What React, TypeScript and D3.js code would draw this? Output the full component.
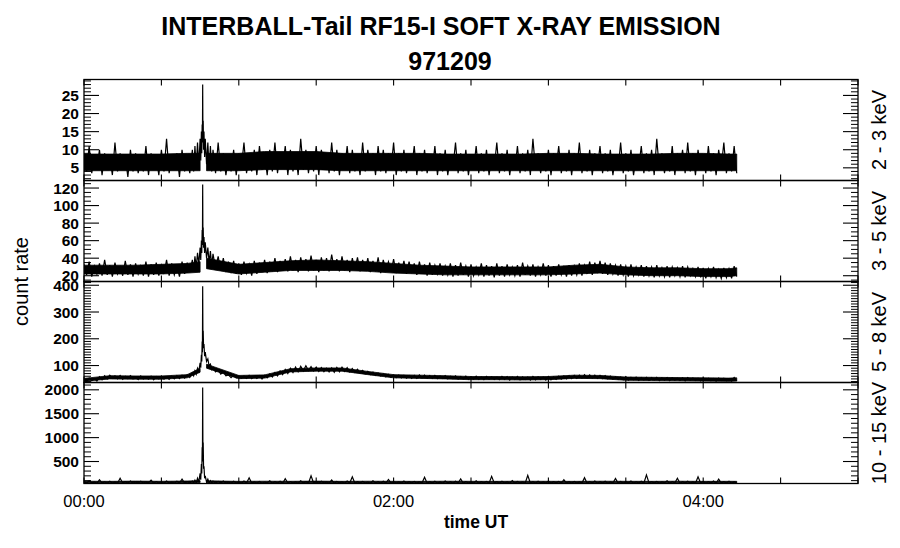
import React from 'react';
import * as d3 from 'd3';

const TITLE = 'INTERBALL-Tail RF15-I SOFT X-RAY EMISSION';
const SUBTITLE = '971209';
const X_LABEL = 'time UT';
const Y_LABEL = 'count rate';
const X_DOMAIN_MIN = [0, 300];
const X_MAJOR_STEP = 30;
const X_TICK_MINUTES = [0, 120, 240];
const X_TICK_LABELS = ['00:00', '02:00', '04:00'];

// Each channel: 2-minute bins from 00:00, written as [high, low, high, low, ...]
// (upper and lower excursion of the noisy trace in the bin).
const BIN_MINUTES = 2;
// Dense core of the noise band (interrupted under the flare peak).
const CORE_MINUTES = [0, 10, 20, 30, 40, 45, 47.5, 60, 70, 80, 90, 100, 110, 120, 130, 140, 150, 160, 170, 180, 190, 200, 210, 220, 230, 240, 250, 253];
const CORE_GAP = [45, 47.5];
// Flare around 00:46 at finer time resolution (replaces the bins from 42 to 54 min).
const FLARE_WINDOW = [42, 56];
const FLARE_MINUTES = [42, 42.5, 43, 43.5, 44, 44.5, 45, 45.25, 45.5, 45.65, 45.8, 45.9, 46, 46.1, 46.2, 46.35, 46.5, 46.75, 47, 47.5, 48, 48.5, 49, 49.5, 50, 51, 52, 53, 54, 55];

const CH1_LABEL = '2 - 3 keV';
const CH1_RANGE = [1.5, 29.4];
const CH1_MAJOR = [5, 10, 15, 20, 25];
const CH1_MINOR = 1;
const CH1 = [
  9, 4, 11, 3.5, 8, 5, 10, 3, 9, 4.5,
  8, 3, 12, 4, 9, 5, 8, 2.5, 10, 4,
  9, 3.5, 7.5, 4, 11, 3, 9, 5, 8, 3,
  10, 4, 13, 3.5, 8, 4.5, 9, 2.5, 10, 4,
  8, 3.5, 11, 5, 9, 6, 28, 7, 12, 4,
  10, 3, 9, 4.5, 11, 3.5, 8, 4, 10, 3,
  9, 5, 12, 3.5, 8, 4, 10, 3, 11, 4.5,
  9, 3, 10, 4, 12, 3.5, 9, 5, 11, 3,
  10, 4, 9, 3, 13, 4.5, 10, 3.5, 9, 4,
  11, 3, 10, 5, 9, 3.5, 12, 4, 10, 3,
  9, 4.5, 11, 3.5, 10, 4, 8, 3, 12, 4,
  10, 5, 9, 3, 11, 4, 10, 3.5, 9, 4.5,
  12, 3, 9, 4, 10, 3.5, 8, 5, 11, 3,
  9, 4, 10, 3.5, 8, 4.5, 11, 3, 9, 4,
  10, 3, 8, 5, 12, 3.5, 9, 4, 10, 3,
  8, 4.5, 11, 3.5, 9, 4, 10, 3, 8, 5,
  12, 3.5, 9, 4, 10, 3, 8, 4.5, 11, 3.5,
  9, 4, 10, 3, 13, 4.5, 9, 3.5, 8, 4,
  10, 3, 9, 5, 11, 3.5, 8, 4, 10, 3,
  9, 4.5, 12, 3.5, 8, 4, 10, 3, 9, 5,
  11, 3.5, 9, 4, 10, 3, 8, 4.5, 12, 3.5,
  9, 4, 10, 3, 8, 5, 11, 3.5, 9, 4,
  10, 3, 13, 4.5, 9, 3.5, 8, 4, 11, 3,
  9, 5, 10, 3.5, 12, 4, 9, 3, 10, 4.5,
  8, 3.5, 11, 4, 9, 3, 10, 5, 12, 3.5,
  9, 4, 11, 3.5,
];
const CH1_CORE_HI = [8.8, 8.8, 8.8, 8.8, 9, 9, 9, 9, 9.5, 9.5, 9.5, 9, 9, 9, 9, 8.8, 8.8, 8.8, 8.8, 9, 9, 8.8, 8.8, 8.8, 9, 9, 8.8, 8.8];
const CH1_CORE_LO = [4.2, 4.2, 4.2, 4.2, 4.2, 4.2, 4.2, 4.2, 4.5, 4.5, 4.5, 4.2, 4.2, 4.2, 4.2, 4.2, 4.2, 4.2, 4.2, 4.2, 4.2, 4.2, 4.2, 4.2, 4.2, 4.2, 4.2, 4.2];
const CH1_FLARE = [10, 4, 11, 5, 12, 5.5, 13, 7, 15, 9, 17, 12, 28, 14, 18, 10, 15, 8, 13, 6, 12, 4.5, 11, 4, 10, 3.5, 12, 4, 9, 3];

const CH2_LABEL = '3 - 5 keV';
const CH2_RANGE = [13.4, 128.6];
const CH2_MAJOR = [20, 40, 60, 80, 100, 120];
const CH2_MINOR = 5;
const CH2 = [
  33, 21, 36, 19, 31, 22, 34, 20, 38, 21,
  32, 19, 35, 22, 30, 20, 37, 21, 33, 19,
  34, 22, 31, 20, 36, 19, 33, 21, 35, 20,
  32, 22, 38, 20, 34, 21, 31, 19, 36, 22,
  35, 24, 40, 27, 48, 33, 124, 45, 60, 36,
  42, 28, 40, 26, 38, 24, 36, 23, 37, 22,
  34, 21, 36, 23, 33, 20, 37, 22, 35, 24,
  38, 23, 36, 25, 40, 24, 37, 26, 39, 25,
  42, 26, 38, 24, 41, 27, 39, 25, 43, 26,
  38, 24, 41, 26, 40, 25, 44, 27, 39, 25,
  42, 26, 38, 24, 40, 27, 41, 25, 38, 26,
  40, 24, 37, 25, 41, 23, 38, 26, 36, 24,
  39, 23, 35, 24, 37, 22, 36, 23, 34, 21,
  36, 22, 33, 20, 35, 21, 32, 22, 34, 20,
  31, 21, 34, 19, 32, 20, 35, 21, 31, 19,
  33, 20, 30, 21, 34, 19, 32, 20, 31, 18,
  34, 20, 31, 19, 33, 21, 30, 20, 32, 19,
  35, 21, 31, 20, 33, 19, 30, 21, 34, 20,
  32, 19, 31, 20, 33, 21, 30, 19, 32, 20,
  31, 21, 34, 20, 32, 22, 36, 21, 35, 23,
  37, 22, 35, 21, 34, 22, 32, 20, 33, 21,
  31, 19, 33, 20, 30, 21, 32, 19, 31, 20,
  30, 18, 32, 20, 29, 19, 31, 18, 30, 20,
  29, 19, 31, 18, 30, 20, 28, 19, 30, 18,
  29, 17, 28, 19, 30, 18, 27, 17, 29, 18,
  28, 17, 31, 19,
];
const CH2_CORE_HI = [32, 32, 32, 33, 34, 36, 40, 33, 35, 37, 38, 37, 36, 34, 32, 31, 30, 30, 30, 30, 32, 33, 30, 29, 29, 28, 28, 29];
const CH2_CORE_LO = [22, 22, 22, 22, 23, 24, 28, 22, 24, 26, 26, 26, 25, 23, 22, 21, 21, 21, 21, 21, 22, 23, 21, 20, 20, 19, 19, 20];
const CH2_FLARE = [38, 26, 42, 30, 46, 33, 52, 38, 60, 46, 72, 55, 124, 62, 75, 52, 64, 46, 58, 40, 52, 35, 48, 31, 45, 28, 42, 26, 40, 24];

const CH3_LABEL = '5 - 8 keV';
const CH3_RANGE = [36.6, 414];
const CH3_MAJOR = [100, 200, 300, 400];
const CH3_MINOR = 10;
const CH3 = [
  50, 41, 53, 43, 51, 42, 58, 47, 62, 50,
  64, 52, 61, 50, 63, 49, 60, 51, 62, 50,
  59, 48, 61, 50, 58, 49, 60, 47, 59, 50,
  61, 49, 58, 48, 60, 50, 62, 51, 64, 53,
  66, 55, 70, 60, 90, 80, 396, 120, 100, 85,
  74, 62, 70, 60, 68, 57, 65, 55, 64, 54,
  62, 53, 61, 52, 63, 51, 60, 52, 62, 50,
  64, 54, 68, 57, 74, 61, 80, 66, 85, 70,
  90, 74, 94, 77, 97, 80, 99, 81, 96, 80,
  94, 78, 92, 77, 90, 76, 91, 75, 93, 77,
  94, 78, 92, 76, 89, 74, 86, 72, 82, 69,
  78, 66, 75, 63, 72, 61, 69, 58, 67, 56,
  65, 55, 64, 54, 63, 53, 62, 52, 63, 52,
  65, 54, 64, 53, 62, 52, 63, 51, 61, 52,
  62, 50, 60, 51, 61, 49, 59, 50, 60, 48,
  58, 49, 60, 48, 57, 47, 59, 49, 58, 48,
  57, 47, 59, 48, 58, 46, 57, 48, 59, 47,
  58, 48, 57, 46, 59, 47, 58, 48, 57, 46,
  59, 47, 58, 48, 60, 49, 61, 50, 62, 51,
  63, 52, 64, 53, 66, 54, 65, 53, 64, 52,
  63, 51, 62, 50, 60, 49, 58, 48, 57, 47,
  58, 46, 56, 47, 57, 45, 55, 46, 56, 45,
  55, 46, 56, 44, 54, 45, 55, 44, 54, 45,
  53, 44, 54, 43, 55, 45, 53, 44, 52, 43,
  53, 44, 52, 43, 51, 42, 53, 44, 52, 43,
  51, 42, 55, 43,
];
const CH3_CORE_HI = [52, 62, 61, 61, 66, 90, 105, 63, 65, 88, 91, 91, 78, 66, 64, 62, 59, 59, 58, 59, 64, 63, 57, 56, 55, 54, 53, 54];
const CH3_CORE_LO = [41, 50, 49, 49, 54, 75, 90, 51, 53, 76, 79, 79, 66, 54, 52, 50, 47, 47, 46, 47, 52, 51, 45, 44, 43, 42, 41, 42];
const CH3_FLARE = [72, 62, 80, 68, 90, 78, 110, 92, 140, 115, 190, 150, 396, 200, 230, 165, 180, 135, 150, 115, 125, 98, 105, 85, 92, 76, 84, 68, 76, 62];

const CH4_LABEL = '10 - 15 keV';
const CH4_RANGE = [40, 2153];
const CH4_MAJOR = [500, 1000, 1500, 2000];
const CH4_MINOR = 100;
const CH4 = [
  80, 48, 95, 52, 70, 45, 120, 50, 75, 47,
  85, 50, 68, 46, 150, 52, 78, 48, 90, 45,
  72, 50, 88, 47, 70, 52, 110, 46, 80, 49,
  75, 45, 92, 51, 68, 47, 85, 50, 130, 48,
  78, 52, 95, 55, 150, 120, 2050, 250, 80, 55,
  82, 50, 76, 47, 105, 52, 70, 46, 88, 49,
  74, 45, 90, 51, 160, 48, 72, 50, 84, 46,
  70, 52, 98, 47, 76, 50, 88, 45, 140, 51,
  80, 48, 72, 46, 95, 52, 78, 47, 200, 50,
  75, 46, 86, 51, 70, 48, 115, 45, 82, 52,
  74, 47, 92, 50, 180, 46, 78, 51, 85, 48,
  70, 45, 96, 52, 76, 47, 88, 50, 125, 46,
  80, 51, 73, 48, 90, 45, 78, 52, 84, 47,
  72, 50, 170, 46, 79, 51, 86, 48, 74, 45,
  92, 52, 77, 47, 88, 50, 135, 46, 80, 51,
  73, 48, 95, 45, 76, 52, 84, 47, 190, 50,
  78, 46, 86, 51, 72, 48, 100, 45, 81, 52,
  75, 47, 210, 50, 79, 46, 88, 51, 73, 48,
  92, 45, 77, 52, 85, 47, 120, 50, 78, 46,
  84, 51, 72, 48, 160, 45, 80, 52, 90, 47,
  76, 50, 88, 46, 74, 51, 145, 48, 82, 45,
  79, 52, 93, 47, 75, 50, 86, 46, 220, 51,
  77, 48, 84, 45, 72, 52, 96, 47, 80, 50,
  150, 46, 79, 51, 88, 48, 74, 45, 180, 52,
  82, 47, 76, 50, 90, 46, 130, 51, 78, 48,
  85, 45, 72, 50,
];
const CH4_CORE_HI = [88, 85, 90, 86, 92, 100, 95, 85, 88, 86, 90, 85, 88, 86, 85, 88, 86, 85, 88, 86, 85, 88, 86, 85, 88, 85, 86, 85];
const CH4_CORE_LO = [55, 55, 55, 54, 56, 60, 56, 55, 54, 55, 55, 54, 55, 55, 54, 55, 55, 54, 55, 55, 54, 55, 55, 54, 55, 54, 55, 54];
const CH4_FLARE = [90, 50, 110, 55, 150, 70, 250, 120, 450, 250, 800, 500, 2050, 700, 900, 350, 400, 150, 200, 70, 130, 55, 100, 50, 90, 48, 85, 50, 92, 47];

const PANELS = [
  { label: CH1_LABEL, range: CH1_RANGE, major: CH1_MAJOR, minor: CH1_MINOR, values: CH1, cHi: CH1_CORE_HI, cLo: CH1_CORE_LO, flare: CH1_FLARE },
  { label: CH2_LABEL, range: CH2_RANGE, major: CH2_MAJOR, minor: CH2_MINOR, values: CH2, cHi: CH2_CORE_HI, cLo: CH2_CORE_LO, flare: CH2_FLARE },
  { label: CH3_LABEL, range: CH3_RANGE, major: CH3_MAJOR, minor: CH3_MINOR, values: CH3, cHi: CH3_CORE_HI, cLo: CH3_CORE_LO, flare: CH3_FLARE },
  { label: CH4_LABEL, range: CH4_RANGE, major: CH4_MAJOR, minor: CH4_MINOR, values: CH4, cHi: CH4_CORE_HI, cLo: CH4_CORE_LO, flare: CH4_FLARE },
];

const W = 900;
const H = 548;
const LEFT = 84;
const RIGHT = 858;
const TOP = 79.5;
const PANEL_H = 101;
const FONT = '"Liberation Sans", Arial, Helvetica, sans-serif';

type Pt = [number, number];
type Band = { t: number; hi: number; lo: number };

function tracePoints(values: number[], flare: number[]): Pt[] {
  // zig-zag through high / low excursions, with the finer flare samples spliced in
  const pts: Pt[] = [];
  for (let k = 0; k * 2 + 1 < values.length; k++) {
    const t = k * BIN_MINUTES;
    if (t >= FLARE_WINDOW[0] && t < FLARE_WINDOW[1]) continue;
    pts.push([t, values[2 * k]]);
    pts.push([t + BIN_MINUTES / 2, values[2 * k + 1]]);
  }
  FLARE_MINUTES.forEach((m, k) => pts.push([m, flare[k]]));
  pts.sort((a, b) => a[0] - b[0]);
  return pts;
}

export default function App() {
  const x = d3.scaleLinear().domain(X_DOMAIN_MIN).range([LEFT, RIGHT]);
  const xMajor = d3.range(X_DOMAIN_MIN[0], X_DOMAIN_MIN[1] + 0.001, X_MAJOR_STEP);
  const bottom = TOP + PANEL_H * PANELS.length;

  return (
    <svg width={W} height={H} style={{ position: 'absolute', left: 0, top: 0, background: '#fff' }} fontFamily={FONT}>
      <rect width={W} height={H} fill="#fff" />
      <text x={441} y={35} textAnchor="middle" fontSize={25} fontWeight="bold">{TITLE}</text>
      <text x={450} y={70} textAnchor="middle" fontSize={25} fontWeight="bold">{SUBTITLE}</text>
      <defs>
        {PANELS.map((p, i) => (
          <clipPath id={`clip${i}`} key={i}>
            <rect x={LEFT} y={TOP + i * PANEL_H} width={RIGHT - LEFT} height={PANEL_H} />
          </clipPath>
        ))}
      </defs>
      {PANELS.map((p, i) => {
        const y0 = TOP + i * PANEL_H;
        const y1 = y0 + PANEL_H;
        const y = d3.scaleLinear().domain(p.range).range([y1, y0]);
        const core: Band[] = CORE_MINUTES.map((t, k) => ({ t, hi: p.cHi[k], lo: p.cLo[k] }));
        const coreParts = [
          core.filter(d => d.t <= CORE_GAP[0]),
          core.filter(d => d.t >= CORE_GAP[1]),
        ];
        const area = d3.area<Band>().x(d => x(d.t)).y1(d => y(d.hi)).y0(d => y(d.lo));
        const line = d3.line<Pt>().x(d => x(d[0])).y(d => y(d[1]));
        const trace = tracePoints(p.values, p.flare);
        const minorTicks = d3.range(Math.ceil(p.range[0] / p.minor) * p.minor, p.range[1], p.minor)
          .filter(v => !p.major.some(m => Math.abs(m - v) < 1e-6));
        return (
          <g key={i}>
            <g clipPath={`url(#clip${i})`}>
              {coreParts.map((part, j) => (
                <path key={j} d={area(part) || ''} fill="#000" stroke="#000" strokeWidth={0.8} />
              ))}
              <path d={line(trace) || ''} fill="none" stroke="#000" strokeWidth={1.2} />
            </g>
            <rect x={LEFT} y={y0} width={RIGHT - LEFT} height={PANEL_H} fill="none" stroke="#000" strokeWidth={1.3} />
            {p.major.map(v => (
              <g key={`M${v}`}>
                <line x1={LEFT} x2={LEFT + 15} y1={y(v)} y2={y(v)} stroke="#000" strokeWidth={1.1} />
                <line x1={RIGHT} x2={RIGHT - 15} y1={y(v)} y2={y(v)} stroke="#000" strokeWidth={1.1} />
                <text x={LEFT - 5} y={y(v) + 5.5} textAnchor="end" fontSize={15.5} fontWeight="bold">{v}</text>
              </g>
            ))}
            {minorTicks.map(v => (
              <g key={`m${v}`}>
                <line x1={LEFT} x2={LEFT + 7} y1={y(v)} y2={y(v)} stroke="#000" strokeWidth={1} />
                <line x1={RIGHT} x2={RIGHT - 7} y1={y(v)} y2={y(v)} stroke="#000" strokeWidth={1} />
              </g>
            ))}
            {xMajor.map(m => (
              <g key={`x${m}`}>
                <line x1={x(m)} x2={x(m)} y1={y0} y2={y0 + 6} stroke="#000" strokeWidth={1.1} />
                <line x1={x(m)} x2={x(m)} y1={y1} y2={y1 - 6} stroke="#000" strokeWidth={1.1} />
              </g>
            ))}
            <text transform={`translate(${886},${(y0 + y1) / 2}) rotate(-90)`} textAnchor="middle" fontSize={20}>{p.label}</text>
          </g>
        );
      })}
      {X_TICK_MINUTES.map((m, k) => (
        <text key={m} x={x(m)} y={506.5} textAnchor="middle" fontSize={16.5}>{X_TICK_LABELS[k]}</text>
      ))}
      <text x={476} y={528} textAnchor="middle" fontSize={17.5} fontWeight="bold">{X_LABEL}</text>
      <text transform={`translate(${28},${(TOP + bottom) / 2}) rotate(-90)`} textAnchor="middle" fontSize={20}>{Y_LABEL}</text>
    </svg>
  );
}
